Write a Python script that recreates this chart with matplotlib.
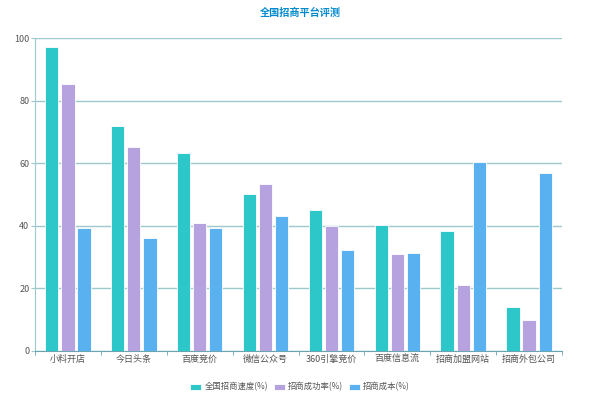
import matplotlib
matplotlib.use('Agg')
import matplotlib.pyplot as plt
import numpy as np

plt.rcParams['font.family'] = ['Noto Sans CJK SC', 'DejaVu Sans']

categories = ['小料开店', '今日头条', '百度竞价', '微信公众号', '360引擎竞价', '百度信息流', '招商加盟网站', '招商外包公司']
speed = [97.2, 72, 63.2, 50.2, 45.2, 40.2, 38.2, 14.2]
success = [85.2, 65.2, 41, 53.2, 40, 31, 21, 10]
cost = [39.2, 36, 39.2, 43.2, 32.2, 31.2, 60.3, 57]
series_names = ['全国招商速度(%)', '招商成功率(%)', '招商成本(%)']
colors = ['#2ec7c9', '#b6a2de', '#5ab1ef']

fig = plt.figure(figsize=(6, 3.98), dpi=100)
ax = fig.add_axes([35 / 600, 1 - 351 / 398, (562 - 35) / 600, (351 - 38) / 398])

x = np.arange(len(categories))
width = 0.2
offsets = [-0.245, 0, 0.245]
for vals, off, c, name in zip([speed, success, cost], offsets, colors, series_names):
    ax.bar(x + off, vals, width, color=c, edgecolor='white', linewidth=0.6, label=name, zorder=3)

ax.set_xlim(-0.5, len(categories) - 0.5)
ax.set_ylim(0, 100)
ax.set_yticks([0, 20, 40, 60, 80, 100])
ax.set_xticks(x)
ax.set_xticklabels(categories)
ax.set_xticks(np.arange(len(categories) + 1) - 0.5, minor=True)

grid_c = '#9ec9cc'
ax.grid(axis='y', color=grid_c, linewidth=1, zorder=0)
for s in ['top', 'right']:
    ax.spines[s].set_visible(False)
ax.spines['left'].set_color(grid_c)
ax.spines['bottom'].set_color('#6ba4b0')
ax.tick_params(axis='x', which='major', length=0, labelsize=6.5, colors='#555555', pad=3)
ax.tick_params(axis='x', which='minor', length=3, color='#6ba4b0')
ax.tick_params(axis='y', length=3, color=grid_c, labelsize=6.5, labelcolor='#555555', pad=1)

fig.text(0.5, 1 - 13 / 398, '全国招商平台评测', ha='center', va='center',
         fontsize=7.3, fontweight='bold', color='#008acd')

fig.legend(loc='center', bbox_to_anchor=(0.5, 1 - 387 / 398), ncol=3, frameon=False,
           fontsize=6, handlelength=1.35, handleheight=0.7, columnspacing=0.7, handletextpad=0.35,
           labelcolor='#555555')

fig.savefig('out.png', dpi=100)
